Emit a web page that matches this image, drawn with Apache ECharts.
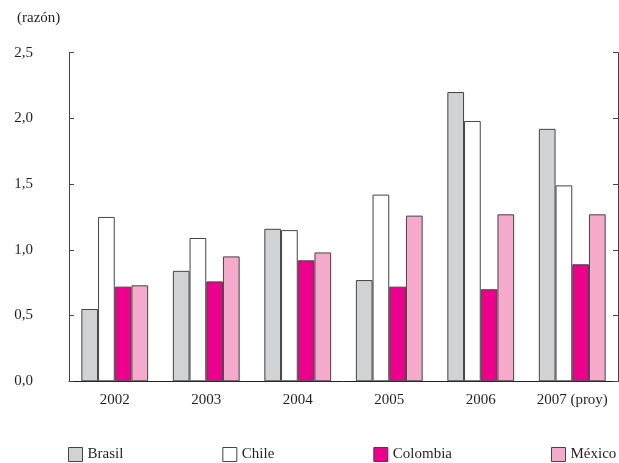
<!DOCTYPE html>
<html>
<head>
<meta charset="utf-8">
<script src="https://cdn.jsdelivr.net/npm/echarts@6/dist/echarts.min.js"></script>
<style>html,body{margin:0;padding:0;background:#fff}#c{width:619px;height:463px}</style>
</head>
<body>
<div id="c"></div>
<script>
const categories = ['2002', '2003', '2004', '2005', '2006', '2007 (proy)'];
const brasil   = [0.55, 0.84, 1.16, 0.77, 2.20, 1.92];
const chile    = [1.25, 1.09, 1.15, 1.42, 1.98, 1.49];
const colombia = [0.72, 0.76, 0.92, 0.72, 0.70, 0.89];
const mexico   = [0.73, 0.95, 0.98, 1.26, 1.27, 1.27];
const yTicks = [0, 0.5, 1, 1.5, 2, 2.5];
const seriesNames = ['Brasil', 'Chile', 'Colombia', 'México'];
const seriesColors = ['#d1d2d4', '#ffffff', '#ec008c', '#f5aacb'];
const seriesData = [brasil, chile, colombia, mexico];

const font = 'Liberation Serif';
const chart = echarts.init(document.getElementById('c'), null, {renderer: 'canvas'});
const fmt = v => v.toFixed(1).replace('.', ',');

chart.setOption({
  animation: false,
  title: {
    text: '(razón)', left: 12, top: 6,
    textStyle: {fontFamily: font, fontSize: 15, fontWeight: 'normal', color: '#231f20'}
  },
  legend: {
    left: 68, top: 447, padding: 0, itemWidth: 14, itemHeight: 14, itemGap: 99,
    icon: 'rect',
    textStyle: {fontFamily: font, fontSize: 15, color: '#231f20', padding: [12, 0, 0, 0]},
    itemStyle: {borderColor: '#444', borderWidth: 1},
    data: seriesNames
  },
  grid: {left: 69, right: 1, top: 52.6, bottom: 81.7, containLabel: false},
  xAxis: {
    type: 'category', data: categories,
    axisLine: {lineStyle: {color: '#231f20', width: 1}},
    axisTick: {inside: true, length: 8, lineStyle: {color: '#231f20'}},
    axisLabel: {interval: 0, fontFamily: font, fontSize: 15, color: '#231f20', margin: 11}
  },
  yAxis: [{
    type: 'value', min: 0, max: 2.5, interval: 0.5,
    axisLine: {show: true, lineStyle: {color: '#444', width: 1}},
    axisTick: {show: true, inside: true, length: 5, lineStyle: {color: '#444'}},
    splitLine: {show: false},
    axisLabel: {fontFamily: font, fontSize: 15, color: '#231f20', margin: 36,
      formatter: v => yTicks.includes(v) ? fmt(v) : ''}
  }, {
    type: 'value', min: 0, max: 2.5, interval: 0.5, position: 'right',
    axisLine: {show: true, lineStyle: {color: '#444', width: 1}},
    axisTick: {show: true, inside: true, length: 5, lineStyle: {color: '#444'}},
    splitLine: {show: false},
    axisLabel: {show: false}
  }],
  series: seriesNames.map((n, i) => ({
    name: n, type: 'bar', data: seriesData[i],
    barGap: '0%', barCategoryGap: '27%',
    itemStyle: {color: seriesColors[i], borderColor: '#444', borderWidth: 1}
  }))
});
</script>
</body>
</html>
